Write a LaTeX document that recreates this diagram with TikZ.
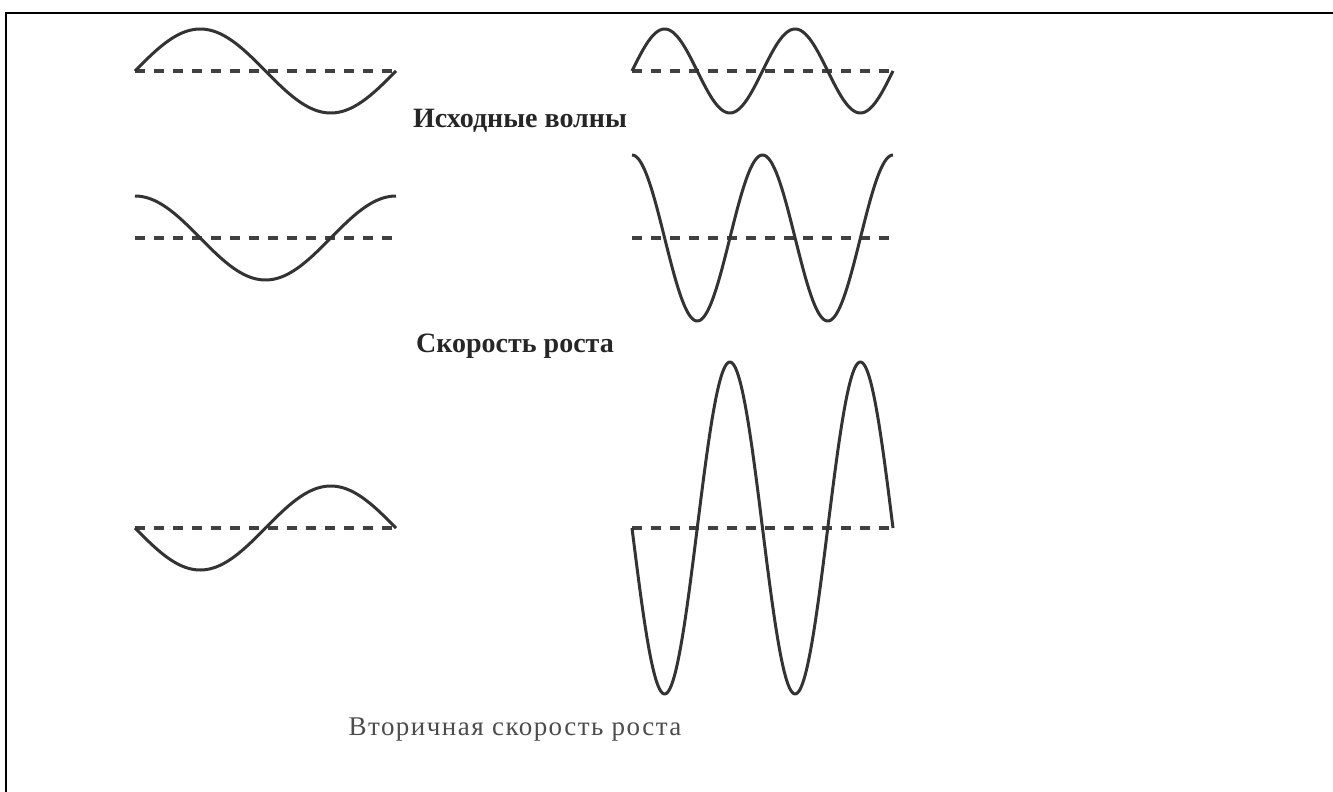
\documentclass[tikz,border=0pt]{standalone}
\usepackage{fontspec}
\setmainfont{Liberation Serif}
\usepackage{xcolor}
\usepackage{tikz}

\tikzset{
    wave/.style={line width=3pt, black!80, line join=round},
    zeroline/.style={line width=3.4pt, black!75, dash pattern=on 10pt off 9pt},
    title/.style={anchor=base, inner sep=0pt, black!85, font=\fontsize{28}{30}\selectfont\bfseries},
    subtitle/.style={anchor=base, inner sep=0pt, black!70, font=\fontsize{27}{29}\selectfont\addfontfeature{LetterSpace=5.5}}
}

\begin{document}
\begin{tikzpicture}[x=1pt, y=-1pt]
    \useasboundingbox (0,0) rectangle (1333,792);

    % Frame (top and left edges only)
    \draw[line width=2.4pt] (6,792) -- (6,13) -- (1333,13);

    % Source waves (domain in degrees, 261px per 360)
    \draw[zeroline] (135,71) -- (396,71);
    \draw[wave] plot[domain=0:360, samples=120] ({135+\x*0.725}, {71-42*sin(\x)});
    \draw[zeroline] (632,71) -- (893,71);
    \draw[wave] plot[domain=0:720, samples=160] ({632+\x*0.3625}, {71-42*sin(\x)});
    \node[title] (srcLabel) at (520,127) {Исходные волны};

    % Growth rate
    \draw[zeroline] (135,238) -- (396,238);
    \draw[wave] plot[domain=0:360, samples=120] ({135+\x*0.725}, {238-42*cos(\x)});
    \draw[zeroline] (632,238) -- (893,238);
    \draw[wave] plot[domain=0:720, samples=160] ({632+\x*0.3625}, {238-83*cos(\x)});
    \node[title] (rateLabel) at (515,352) {Скорость роста};

    % Secondary growth rate
    \draw[zeroline] (135,528) -- (396,528);
    \draw[wave] plot[domain=0:360, samples=120] ({135+\x*0.725}, {528+42*sin(\x)});
    \draw[zeroline] (632,528) -- (893,528);
    \draw[wave] plot[domain=0:720, samples=200] ({632+\x*0.3625}, {528+166*sin(\x)});
    \node[subtitle] (secLabel) at (515,735) {Вторичная скорость роста};
\end{tikzpicture}
\end{document}
